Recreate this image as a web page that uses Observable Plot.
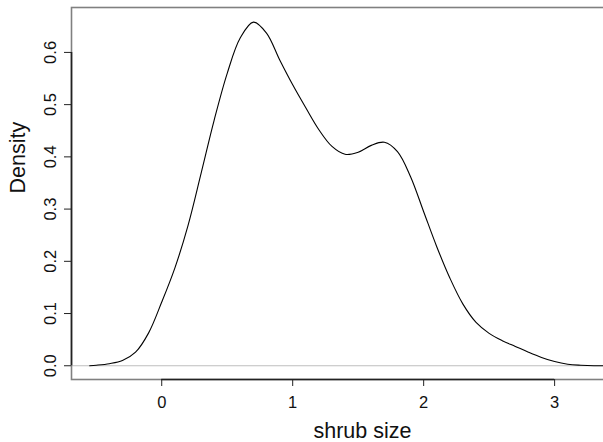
<!DOCTYPE html>
<html>
<head>
<meta charset="utf-8">
<script src="https://cdn.jsdelivr.net/npm/d3@7"></script>
<script src="https://cdn.jsdelivr.net/npm/@observablehq/plot@0.6"></script>
<style>
  html, body { margin: 0; padding: 0; background: #fff; }
  #wrap { width: 603px; height: 442px; overflow: hidden; position: relative; }
  #wrap svg { max-width: none !important; display: block; }
</style>
</head>
<body>
<div id="wrap"></div>
<script>
// Density curve (shrub size vs density)
const shrubSize = [-0.55, -0.5, -0.4, -0.3, -0.2, -0.1, 0.0, 0.1, 0.2, 0.3, 0.4, 0.5, 0.6, 0.7, 0.8, 0.9, 1.0, 1.1, 1.2, 1.3, 1.4, 1.5, 1.6, 1.7, 1.8, 1.9, 2.0, 2.1, 2.2, 2.3, 2.4, 2.5, 2.6, 2.7, 2.8, 2.9, 3.0, 3.1, 3.2, 3.3, 3.45, 3.6];
const density   = [0.000, 0.001, 0.004, 0.010, 0.026, 0.063, 0.122, 0.187, 0.268, 0.368, 0.470, 0.560, 0.628, 0.658, 0.637, 0.586, 0.538, 0.494, 0.452, 0.420, 0.405, 0.409, 0.422, 0.428, 0.410, 0.362, 0.295, 0.228, 0.168, 0.118, 0.083, 0.062, 0.048, 0.037, 0.026, 0.016, 0.008, 0.003, 0.001, 0.000, 0.000, 0.000];

const xTicks = [0, 1, 2, 3];
const xTickLabels = ["0", "1", "2", "3"];
const yTicks = [0.0, 0.1, 0.2, 0.3, 0.4, 0.5, 0.6];
const yTickLabels = ["0.0", "0.1", "0.2", "0.3", "0.4", "0.5", "0.6"];
const xLabel = "shrub size";
const yLabel = "Density";

const xDomain = [-0.689, 3.755];
const yDomain = [-0.0263, 0.686];

const data = shrubSize.map((x, i) => ({x, y: density[i]}));
const font = "'Liberation Sans', Arial, Helvetica, sans-serif";

const chart = Plot.plot({
  width: 653,
  height: 442,
  marginLeft: 71,
  marginRight: 0,
  marginTop: 7,
  marginBottom: 63,
  style: {fontFamily: font, background: "#fff", color: "#000", maxWidth: "none"},
  x: {domain: xDomain},
  y: {domain: yDomain},
  marks: [
    Plot.ruleY([0], {stroke: "#bebebe", strokeWidth: 1}),
    Plot.line(data, {x: "x", y: "y", curve: "catmull-rom", stroke: "#000", strokeWidth: 1.1}),
    Plot.frame({stroke: "#808080", strokeWidth: 1.6}),
    Plot.ruleY([yDomain[0]], {x1: () => xTicks[0], x2: () => xTicks[xTicks.length - 1], stroke: "#222", strokeWidth: 1.6}),
    Plot.ruleX([xDomain[0]], {y1: () => yTicks[0], y2: () => yTicks[yTicks.length - 1], stroke: "#222", strokeWidth: 1.6}),
    Plot.axisX(xTicks, {tickSize: 7, fill: "none", stroke: "#222", label: null}),
    Plot.axisY(yTicks, {tickSize: 7, fill: "none", stroke: "#222", label: null}),
    Plot.text(xTicks, {x: d => d, text: (d, i) => xTickLabels[i], frameAnchor: "bottom", dy: 23.4, lineAnchor: "middle", fontSize: 16.5, fill: "#111"}),
    Plot.text(yTicks, {y: d => d, text: (d, i) => yTickLabels[i], frameAnchor: "left", dx: -21, rotate: -90, lineAnchor: "middle", textAnchor: "middle", fontSize: 16.5, fill: "#111"}),
    Plot.text([xLabel], {frameAnchor: "bottom", dy: 52, lineAnchor: "middle", fontSize: 21.5, fill: "#111"}),
    Plot.text([yLabel], {frameAnchor: "left", dx: -53, rotate: -90, lineAnchor: "middle", fontSize: 21.5, fill: "#111"})
  ]
});
document.getElementById("wrap").appendChild(chart);
</script>
</body>
</html>
